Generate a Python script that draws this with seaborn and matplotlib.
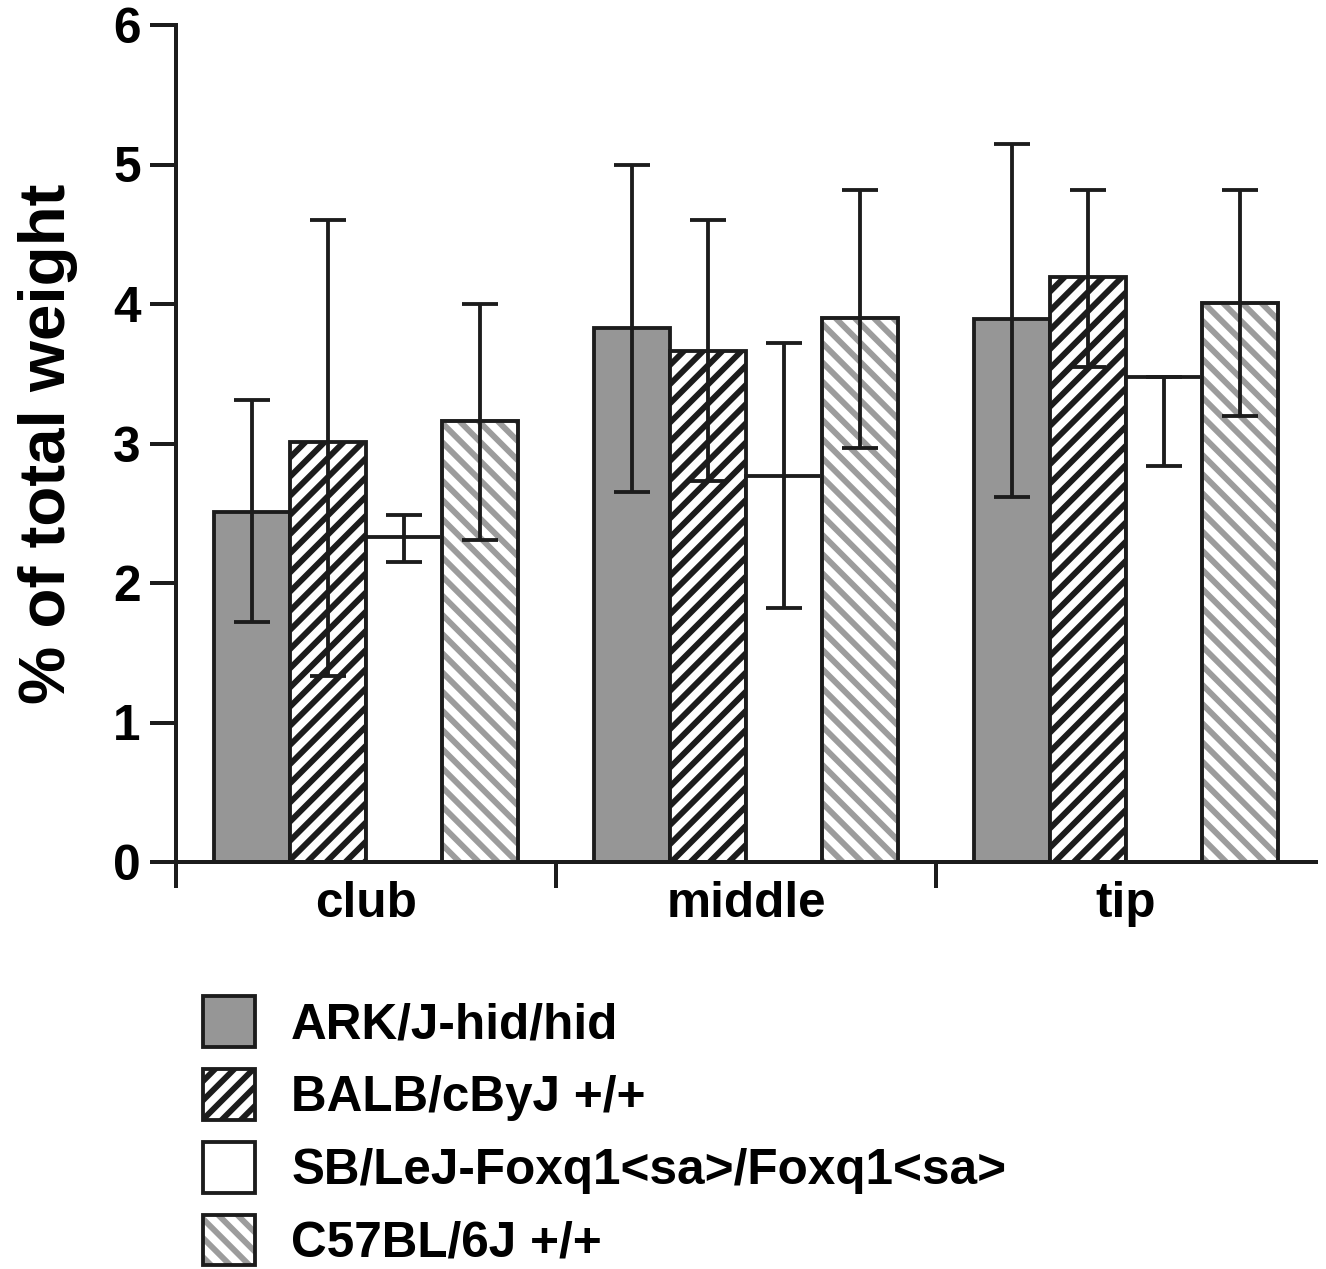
import numpy as np
import pandas as pd
import matplotlib
matplotlib.use("Agg")
import matplotlib.pyplot as plt
import seaborn as sns
from matplotlib.patches import Patch, Rectangle
from matplotlib.legend_handler import HandlerTuple

# data (mean, lower and upper end of error bar)
regions = ["club", "middle", "tip"]
strains = ["ARK/J-hid/hid", "BALB/cByJ +/+",
           "SB/LeJ-Foxq1<sa>/Foxq1<sa>", "C57BL/6J +/+"]

ark_mean = [2.51, 3.83, 3.89]
ark_lo = [1.72, 2.65, 2.62]
ark_hi = [3.31, 5.00, 5.15]

balb_mean = [3.01, 3.66, 4.19]
balb_lo = [1.33, 2.73, 3.55]
balb_hi = [4.60, 4.60, 4.82]

sb_mean = [2.33, 2.77, 3.48]
sb_lo = [2.15, 1.82, 2.84]
sb_hi = [2.49, 3.72, 3.48]

c57_mean = [3.16, 3.90, 4.01]
c57_lo = [2.31, 2.97, 3.20]
c57_hi = [4.00, 4.82, 4.82]

DPI = 115
EDGE = "#1c1c1c"
GRAY = "#969696"
HATCH_GRAY = "#9c9c9c"

plt.rcParams["font.family"] = ["Liberation Sans", "DejaVu Sans"]
plt.rcParams["font.weight"] = "bold"
plt.rcParams["hatch.linewidth"] = 3.7

means = [ark_mean, balb_mean, sb_mean, c57_mean]
lows = [ark_lo, balb_lo, sb_lo, c57_lo]
highs = [ark_hi, balb_hi, sb_hi, c57_hi]

rows = []
for s, m, lo, hi in zip(strains, means, lows, highs):
    for r, v, l, h in zip(regions, m, lo, hi):
        rows.append({"region": r, "strain": s, "value": v, "lo": l, "hi": h})
df = pd.DataFrame(rows)

fig = plt.figure(figsize=(1326 / DPI, 1269 / DPI), dpi=DPI)
ax = fig.add_axes([176 / 1326, 1 - 862 / 1269, (1316 - 176) / 1326, (862 - 25) / 1269])

sns.barplot(data=df, x="region", y="value", hue="strain", order=regions,
            hue_order=strains, errorbar=None, width=0.8, ax=ax,
            palette=[GRAY, "white", "white", "white"],
            edgecolor=EDGE, linewidth=2.4, saturation=1, legend=False)
bar_groups = list(ax.containers)

hatches = [None, "//", None, "\\\\"]
for i, cont in enumerate(bar_groups):
    for p in cont.patches:
        if hatches[i]:
            p.set_hatch(hatches[i])
        if i == 3:
            # grey stripes, then a black outline on top
            p.set_edgecolor(HATCH_GRAY)
            ax.add_patch(Rectangle(p.get_xy(), p.get_width(), p.get_height(),
                                   fill=False, edgecolor=EDGE, linewidth=2.4,
                                   zorder=p.get_zorder() + 0.1))

# error bars
for i, cont in enumerate(bar_groups):
    sub = df[df["strain"] == strains[i]].set_index("region").loc[regions]
    xs = [p.get_x() + p.get_width() / 2 for p in cont.patches]
    yerr = [sub["value"] - sub["lo"], sub["hi"] - sub["value"]]
    ax.errorbar(xs, sub["value"], yerr=yerr, fmt="none", ecolor=EDGE,
                elinewidth=2.4, capsize=11.5, capthick=2.4, zorder=5)

ax.set_xlim(-0.5, 2.5)
ax.set_ylim(0, 6)
ax.set_yticks(range(7))
ax.set_xticks([0, 1, 2])
ax.set_xticks([-0.5, 0.5, 1.5], minor=True)
ax.set_xticklabels(regions)
ax.set_xlabel("")
ax.set_ylabel("% of total weight", fontsize=41, fontweight="bold", labelpad=22)

ax.spines["top"].set_visible(False)
ax.spines["right"].set_visible(False)
for sp in ["left", "bottom"]:
    ax.spines[sp].set_linewidth(2.5)
    ax.spines[sp].set_color(EDGE)

ax.tick_params(axis="y", direction="out", length=16, width=2.5, color=EDGE,
               labelsize=31, pad=6)
ax.tick_params(axis="x", which="major", length=0, labelsize=31, pad=12)
ax.tick_params(axis="x", which="minor", direction="out", length=16,
               width=2.5, color=EDGE)
for lab in ax.get_xticklabels() + ax.get_yticklabels():
    lab.set_fontweight("bold")

# legend
h_ark = Patch(facecolor=GRAY, edgecolor=EDGE, linewidth=2.4)
h_balb = Patch(facecolor="white", edgecolor=EDGE, linewidth=2.4, hatch="//")
h_sb = Patch(facecolor="white", edgecolor=EDGE, linewidth=2.4)
h_c57 = (Patch(facecolor="white", edgecolor=HATCH_GRAY, linewidth=0, hatch="\\\\"),
         Patch(facecolor="none", edgecolor=EDGE, linewidth=2.4))
fig.legend([h_ark, h_balb, h_sb, h_c57], strains,
           handler_map={tuple: HandlerTuple(ndivide=1)},
           loc="upper left", bbox_to_anchor=(203 / 1326, 1 - 996 / 1269),
           frameon=False, borderpad=0, borderaxespad=0,
           prop={"size": 31, "weight": "bold"},
           handlelength=1.06, handleheight=1.2, handletextpad=0.72,
           labelspacing=0.42)

fig.savefig("out.png", dpi=DPI)
